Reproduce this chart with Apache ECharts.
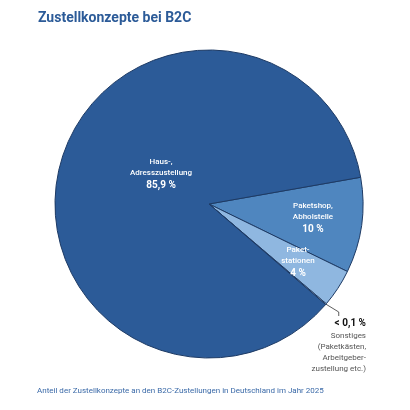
<!DOCTYPE html>
<html>
<head>
<meta charset="utf-8">
<script src="https://cdn.jsdelivr.net/npm/echarts@6/dist/echarts.min.js"></script>
<style>
  html, body { margin: 0; padding: 0; background: #fff; }
  #chart { width: 410px; height: 410px; }
</style>
</head>
<body>
<div id="chart"></div>
<script>
// data
const categories = ['Paketshop,\nAbholstelle', 'Paket-\nstationen', 'Sonstiges\n(Paketkästen,\nArbeitgeber-\nzustellung etc.)', 'Haus-,\nAdresszustellung']
const shares = [10, 4, 0.1, 85.9]
const shareLabels = ['10 %', '4 %', '< 0,1 %', '85,9 %']
const sliceColors = ['#4f86bf', '#8fb7e0', '#ffffff', '#2c5b98']

const font = 'Roboto, "DejaVu Sans", sans-serif'

// label anchor per slice (text placement only)
const labelPos = [
  { x: 313, y: 218, align: 'center', verticalAlign: 'middle' },
  { x: 298, y: 262, align: 'center', verticalAlign: 'middle' },
  { x: 366, y: 316, align: 'right', verticalAlign: 'top' },
  { x: 161, y: 174, align: 'center', verticalAlign: 'middle' }
]

const chart = echarts.init(document.getElementById('chart'))

const seriesData = categories.map((name, i) => {
  const inside = i !== 2
  return {
    name: name,
    value: shares[i],
    itemStyle: { color: sliceColors[i] },
    label: inside ? {
      position: 'inside',
      formatter: () => name + '\n{p|' + shareLabels[i] + '}',
      color: '#ffffff',
      fontSize: 8,
      fontWeight: 500,
      lineHeight: 11,
      fontFamily: font,
      rich: {
        p: { fontSize: 10, fontWeight: 'bold', color: '#ffffff', lineHeight: 13, fontFamily: font }
      }
    } : {
      position: 'outside',
      formatter: () => '{p|' + shareLabels[i] + '}\n' + name,
      color: '#555555',
      fontSize: 8,
      lineHeight: 11,
      fontFamily: font,
      rich: {
        p: { fontSize: 10, fontWeight: 'bold', color: '#111111', lineHeight: 14, fontFamily: font }
      }
    },
    labelLine: inside ? { show: false } : {
      show: true,
      length: 6,
      length2: 4,
      lineStyle: { color: '#333333', width: 0.8 }
    }
  }
})

chart.setOption({
  animation: false,
  title: {
    text: 'Zustellkonzepte bei B2C',
    left: 33,
    top: 6,
    textStyle: { color: '#2c5b98', fontSize: 14, fontWeight: 'bold', fontFamily: font }
  },
  graphic: [{
    type: 'text',
    left: 37,
    top: 387,
    style: {
      text: 'Anteil der Zustellkonzepte an den B2C-Zustellungen in Deutschland im Jahr 2025',
      fill: '#3b6aa8',
      fontSize: 8,
      fontFamily: font
    }
  }],
  series: [{
    type: 'pie',
    center: [209, 204],
    radius: [0, 154],
    startAngle: 10,
    clockwise: true,
    avoidLabelOverlap: false,
    itemStyle: { borderColor: '#1d3a64', borderWidth: 1 },
    emphasis: { disabled: true },
    labelLayout: (params) => labelPos[params.dataIndex],
    data: seriesData
  }]
})
</script>
</body>
</html>
